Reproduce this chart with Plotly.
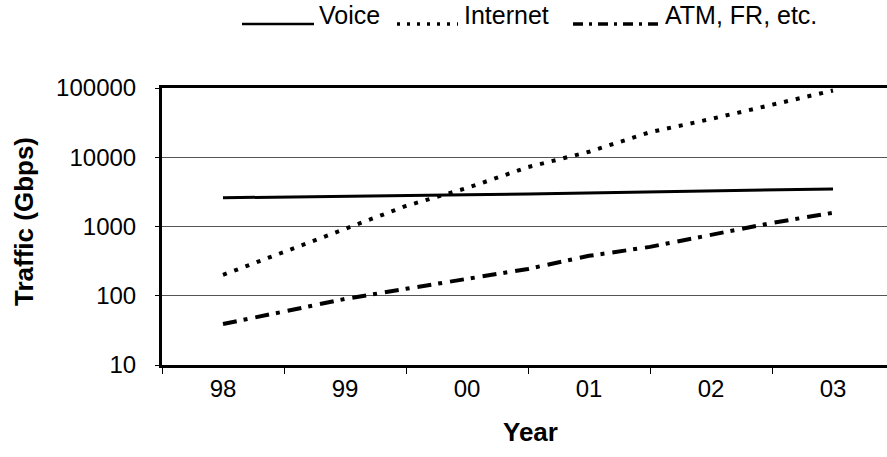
import plotly.graph_objects as go

# ---- data ----
years = [1998.0, 1998.5, 1999.0, 1999.5, 2000.0, 2000.5, 2001.0, 2001.5, 2002.0, 2002.5, 2003.0]
voice = [2600, 2650, 2700, 2780, 2870, 2950, 3050, 3150, 3260, 3370, 3490]
internet = [200, 430, 920, 1980, 3600, 7200, 12000, 23000, 35700, 57800, 92000]
atm = [39, 59, 90, 126, 175, 244, 377, 508, 757, 1127, 1580]

tick_years = [1998, 1999, 2000, 2001, 2002, 2003]
tick_labels = ["98", "99", "00", "01", "02", "03"]
y_ticks = [10, 100, 1000, 10000, 100000]
y_labels = ["10", "100", "1000", "10000", "100000"]
series_names = ["Voice", "Internet", "ATM, FR, etc."]

# ---- layout constants ----
W, H = 887, 457
L, R, T, B = 162, 0, 88, 92
FONT = "Liberation Sans, Arial, sans-serif"
dashes = ["solid", "4px,8px", "14px,7px,4px,8px"]
widths = [3, 4, 4]

fig = go.Figure()
for name, vals, d, w in zip(series_names, [voice, internet, atm], dashes, widths):
    fig.add_trace(go.Scatter(x=years, y=vals, mode="lines", name=name,
                             line=dict(color="black", width=w, dash=d),
                             showlegend=False))

pw = W - L - R
ph = H - T - B


def px(x):
    return (x - L) / pw


def py(y):
    return (H - B - y) / ph


# manual legend at the top
leg = [
    (series_names[0], dashes[0], 242, 314, 2.5, 317),
    (series_names[1], "3px,7px", 397, 458, 3.5, 462),
    (series_names[2], "10px,6px,3px,6px", 573, 659, 3.5, 663),
]
for name, d, x0, x1, w, tx in leg:
    fig.add_shape(type="line", xref="paper", yref="paper",
                  x0=px(x0), x1=px(x1), y0=py(24), y1=py(24),
                  line=dict(color="black", width=w, dash=d))
    fig.add_annotation(xref="paper", yref="paper", x=px(tx), y=py(15),
                       text=name, showarrow=False, xanchor="left", yanchor="middle",
                       font=dict(family=FONT, size=25, color="black"))

# axis titles
fig.add_annotation(xref="paper", yref="paper", x=px(530), y=py(432),
                   text="<b>Year</b>", showarrow=False, xanchor="center", yanchor="middle",
                   font=dict(family=FONT, size=26, color="black"))
fig.add_annotation(xref="paper", yref="paper", x=px(24), y=py(222),
                   text="<b>Traffic (Gbps)</b>", showarrow=False, textangle=-90,
                   xanchor="center", yanchor="middle",
                   font=dict(family=FONT, size=26, color="black"))

fig.update_layout(
    width=W, height=H,
    margin=dict(l=L, r=R, t=T, b=B),
    paper_bgcolor="white", plot_bgcolor="white",
    font=dict(family=FONT, size=24, color="black"),
    xaxis=dict(
        range=[1997.5, 1997.5 + (W - L) / 122.0],
        tickvals=tick_years, ticktext=tick_labels,
        ticks="", showgrid=False, zeroline=False,
        showline=True, linecolor="black", linewidth=3, mirror=True,
        ticklabelstandoff=0,
        minor=dict(tickvals=[1997.5, 1998.5, 1999.5, 2000.5, 2001.5, 2002.5],
                   ticks="outside", ticklen=6, tickcolor="black", tickwidth=1,
                   showgrid=False),
        tickfont=dict(family=FONT, size=24, color="black"),
    ),
    yaxis=dict(
        type="log", range=[1, 5],
        tickvals=y_ticks, ticktext=y_labels,
        ticks="outside", ticklen=4, tickcolor="black", tickwidth=1,
        ticklabelstandoff=14,
        showgrid=True, gridcolor="#555555", gridwidth=1,
        zeroline=False,
        showline=True, linecolor="black", linewidth=3, mirror=False,
        tickfont=dict(family=FONT, size=24, color="black"),
    ),
)

fig.write_html("out.html")
